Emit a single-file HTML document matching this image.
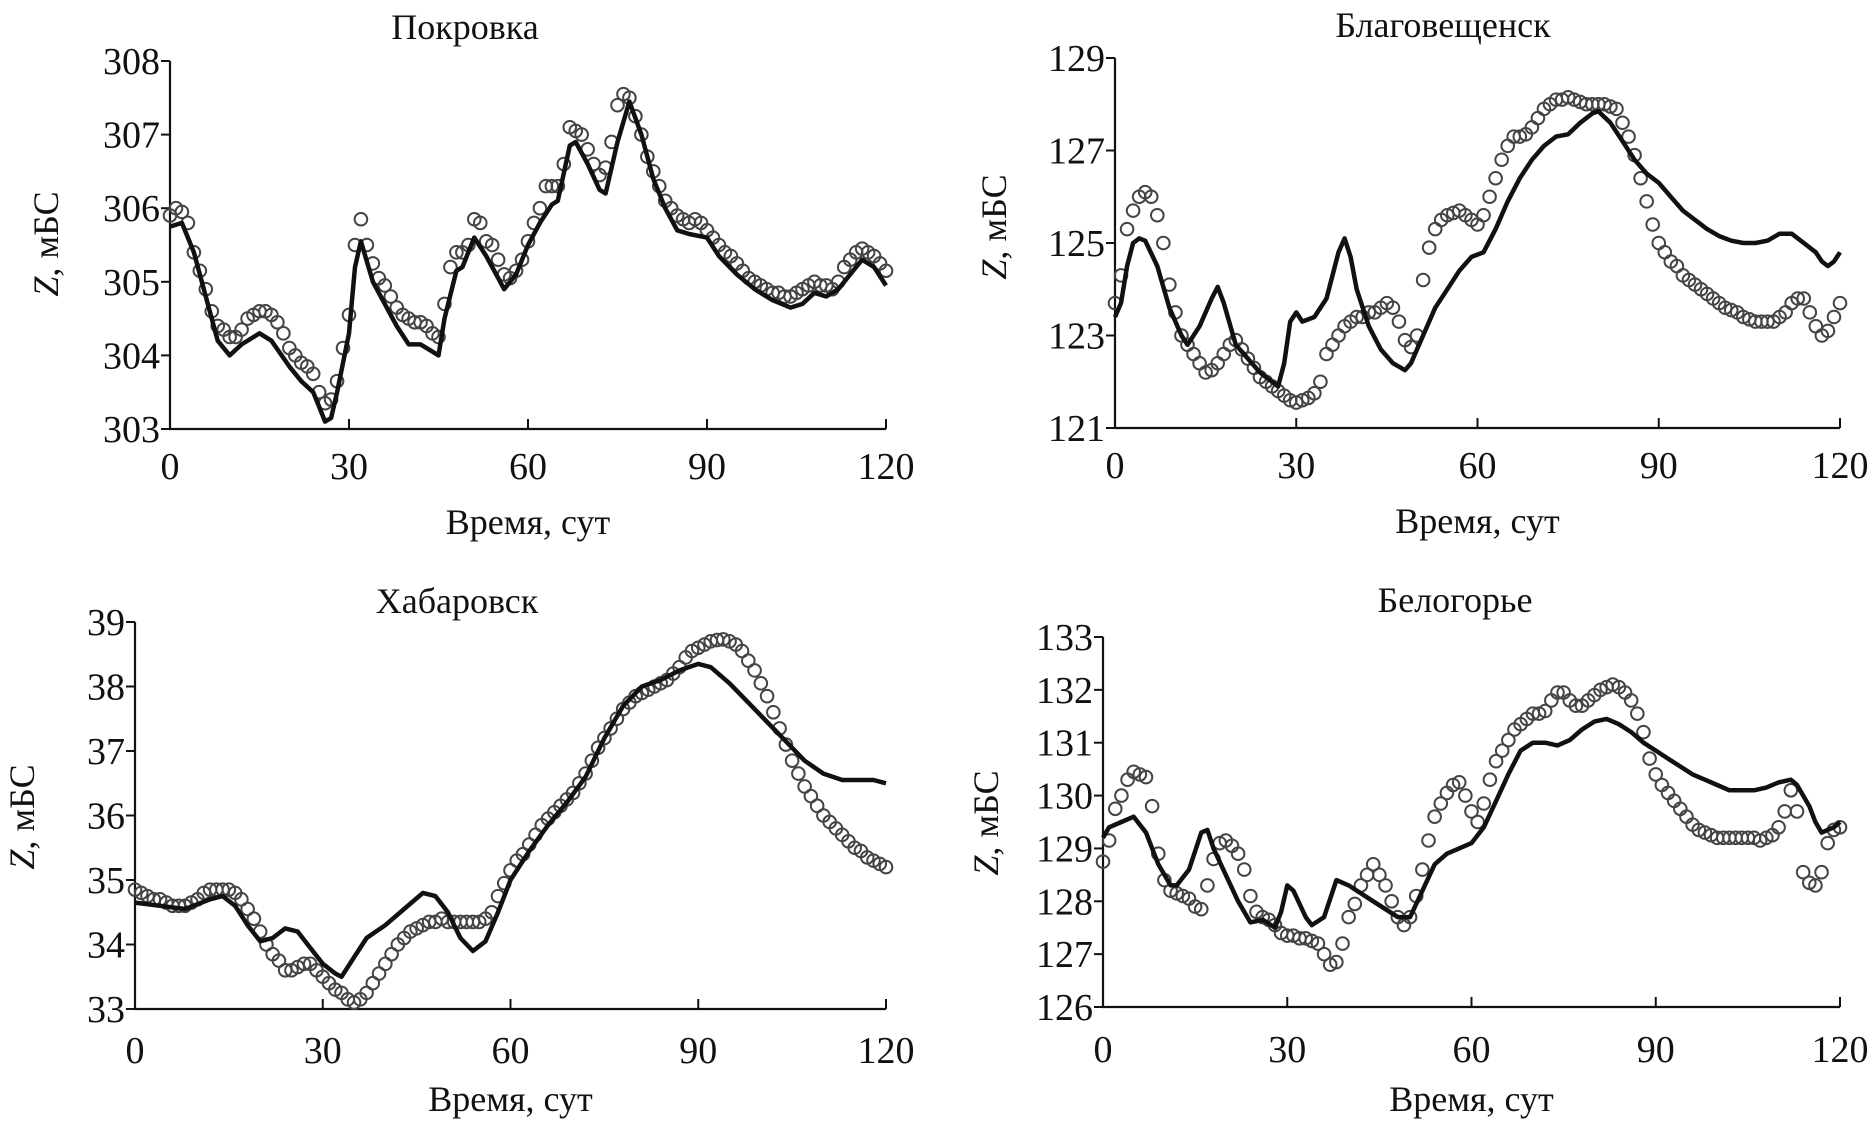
<!DOCTYPE html>
<html><head><meta charset="utf-8">
<style>
html,body{margin:0;padding:0;background:#fff;}
svg{display:block;font-family:"Liberation Serif",serif;}
</style></head>
<body>
<svg id="chart" width="1870" height="1125" viewBox="0 0 1870 1125"></svg>
<script>
const days = Array.from({length:121},(_,i)=>i);
const xTicks = [0,30,60,90,120];

const pokObs = [305.9,306.0,305.95,305.8,305.4,305.15,304.9,304.6,304.4,304.35,304.25,304.25,304.35,304.5,304.55,304.6,304.6,304.55,304.45,304.3,304.1,304.0,303.9,303.85,303.75,303.5,303.35,303.4,303.65,304.1,304.55,305.5,305.85,305.5,305.25,305.05,304.95,304.8,304.65,304.55,304.5,304.45,304.45,304.4,304.3,304.25,304.7,305.2,305.4,305.4,305.5,305.85,305.8,305.55,305.5,305.3,305.1,305.05,305.15,305.3,305.55,305.8,306.0,306.3,306.3,306.3,306.6,307.1,307.05,307.0,306.8,306.6,306.45,306.55,306.9,307.4,307.55,307.5,307.25,307.0,306.7,306.5,306.3,306.1,306.0,305.9,305.85,305.8,305.85,305.8,305.7,305.6,305.5,305.4,305.35,305.25,305.15,305.05,305.0,304.95,304.9,304.85,304.85,304.8,304.8,304.85,304.9,304.95,305.0,304.95,304.95,304.9,305.0,305.2,305.3,305.4,305.45,305.4,305.35,305.25,305.15];
const pokModelDays = [0,2,4,6,8,10,12,15,17,20,22,24,25,26,27,28,30,31,32,34,36,38,40,42,44,45,46,48,49,50,51,53,55,56,58,60,62,64,65,67,68,70,72,73,75,77,79,81,83,85,87,90,92,95,98,101,104,106,108,110,112,114,116,118,120];
const pokModel = [305.75,305.8,305.4,304.8,304.2,304.0,304.15,304.3,304.2,303.85,303.65,303.5,303.3,303.1,303.15,303.5,304.3,305.2,305.55,305.0,304.7,304.4,304.15,304.15,304.05,304.0,304.5,305.15,305.2,305.4,305.6,305.35,305.05,304.9,305.1,305.5,305.8,306.05,306.1,306.85,306.9,306.6,306.25,306.2,306.9,307.45,307.0,306.4,306.0,305.7,305.65,305.6,305.35,305.1,304.9,304.75,304.65,304.7,304.85,304.8,304.9,305.1,305.3,305.2,304.95];
const pokTicks = [303,304,305,306,307,308];

const blgObs = [123.7,124.3,125.3,125.7,126.0,126.1,126.0,125.6,125.0,124.1,123.5,123.0,122.8,122.6,122.4,122.2,122.25,122.4,122.6,122.8,122.9,122.7,122.5,122.3,122.1,122.0,121.9,121.8,121.7,121.6,121.55,121.6,121.65,121.75,122.0,122.6,122.8,123.0,123.2,123.3,123.4,123.4,123.5,123.5,123.6,123.7,123.6,123.3,122.9,122.75,123.0,124.2,124.9,125.3,125.5,125.6,125.65,125.7,125.6,125.5,125.4,125.6,126.0,126.4,126.8,127.1,127.3,127.3,127.35,127.5,127.7,127.9,128.0,128.1,128.1,128.15,128.1,128.05,128.0,128.0,128.0,128.0,127.95,127.9,127.6,127.3,126.9,126.4,125.9,125.4,125.0,124.8,124.6,124.5,124.3,124.2,124.1,124.0,123.9,123.8,123.7,123.6,123.55,123.5,123.4,123.35,123.3,123.3,123.3,123.3,123.4,123.5,123.7,123.8,123.8,123.5,123.2,123.0,123.1,123.4,123.7];
const blgModelDays = [0,1,2,3,4,5,7,9,11,12,14,16,17,18,20,22,24,26,27,28,29,30,31,33,35,37,38,39,40,42,44,46,48,49,51,53,55,57,59,61,63,65,67,69,71,73,75,77,79,80,82,84,86,88,90,92,94,96,98,100,102,104,106,108,110,112,114,116,117,118,119,120];
const blgModel = [123.4,123.7,124.5,125.0,125.1,125.05,124.5,123.6,123.0,122.8,123.2,123.8,124.05,123.7,122.8,122.5,122.2,122.0,121.9,122.4,123.3,123.5,123.3,123.4,123.8,124.8,125.1,124.7,124.0,123.2,122.7,122.4,122.25,122.4,123.0,123.6,124.0,124.4,124.7,124.8,125.3,125.9,126.4,126.8,127.1,127.3,127.35,127.6,127.8,127.85,127.6,127.2,126.8,126.5,126.3,126.0,125.7,125.5,125.3,125.15,125.05,125.0,125.0,125.05,125.2,125.2,125.0,124.8,124.6,124.5,124.6,124.8];
const blgTicks = [121,123,125,127,129];

const khbObs = [34.85,34.8,34.75,34.7,34.7,34.65,34.6,34.6,34.6,34.65,34.7,34.8,34.85,34.85,34.85,34.85,34.8,34.7,34.55,34.4,34.2,34.0,33.85,33.75,33.6,33.6,33.65,33.7,33.7,33.6,33.5,33.4,33.3,33.25,33.15,33.1,33.15,33.25,33.4,33.55,33.7,33.85,34.0,34.1,34.2,34.25,34.3,34.35,34.35,34.4,34.35,34.35,34.35,34.35,34.35,34.35,34.4,34.5,34.75,34.95,35.15,35.3,35.4,35.55,35.7,35.85,35.95,36.05,36.15,36.25,36.35,36.5,36.65,36.85,37.05,37.2,37.35,37.5,37.65,37.75,37.85,37.9,37.95,38.0,38.05,38.1,38.2,38.3,38.45,38.55,38.6,38.65,38.7,38.72,38.73,38.7,38.65,38.55,38.4,38.25,38.05,37.85,37.6,37.35,37.1,36.85,36.65,36.45,36.3,36.15,36.0,35.9,35.8,35.7,35.6,35.5,35.45,35.35,35.3,35.25,35.2];
const khbModelDays = [0,4,8,12,14,16,18,20,22,24,26,28,30,32,33,35,37,40,43,46,48,50,52,54,56,58,60,63,66,69,72,75,78,81,84,87,90,92,95,98,101,104,107,110,113,116,118,120];
const khbModel = [34.65,34.6,34.55,34.7,34.75,34.6,34.3,34.05,34.1,34.25,34.2,33.95,33.7,33.55,33.5,33.8,34.1,34.3,34.55,34.8,34.75,34.5,34.1,33.9,34.05,34.5,35.0,35.45,35.85,36.2,36.6,37.2,37.7,38.0,38.1,38.25,38.35,38.3,38.05,37.75,37.45,37.15,36.85,36.65,36.55,36.55,36.55,36.5];
const khbTicks = [33,34,35,36,37,38,39];

const blgrObs = [128.75,129.15,129.75,130.0,130.3,130.45,130.4,130.35,129.8,128.9,128.4,128.2,128.15,128.1,128.05,127.9,127.85,128.3,128.8,129.1,129.15,129.05,128.9,128.6,128.1,127.8,127.7,127.65,127.55,127.4,127.35,127.35,127.3,127.3,127.25,127.2,127.0,126.8,126.85,127.2,127.7,127.95,128.3,128.5,128.7,128.5,128.3,128.0,127.7,127.55,127.7,128.1,128.6,129.15,129.6,129.85,130.05,130.2,130.25,130.0,129.7,129.5,129.85,130.3,130.65,130.85,131.05,131.25,131.35,131.45,131.55,131.55,131.6,131.8,131.95,131.95,131.8,131.7,131.7,131.8,131.9,132.0,132.05,132.1,132.05,131.95,131.8,131.55,131.2,130.7,130.4,130.2,130.05,129.9,129.75,129.6,129.45,129.35,129.3,129.25,129.2,129.2,129.2,129.2,129.2,129.2,129.2,129.15,129.2,129.25,129.4,129.7,130.1,129.7,128.55,128.35,128.3,128.55,129.1,129.35,129.4];
const blgrModelDays = [0,1,3,5,7,9,11,12,14,16,17,18,20,22,24,26,28,29,30,31,33,34,36,38,40,42,44,46,48,50,52,54,56,58,60,62,64,66,68,70,72,74,76,78,80,82,84,86,88,90,92,94,96,98,100,102,104,106,108,110,112,113,115,116,117,118,119,120];
const blgrModel = [129.2,129.4,129.5,129.6,129.3,128.7,128.3,128.3,128.6,129.3,129.35,129.0,128.5,128.0,127.6,127.65,127.5,127.8,128.3,128.2,127.7,127.55,127.7,128.4,128.3,128.15,128.0,127.85,127.7,127.7,128.2,128.7,128.9,129.0,129.1,129.4,129.9,130.4,130.85,131.0,131.0,130.95,131.05,131.25,131.4,131.45,131.35,131.2,131.0,130.85,130.7,130.55,130.4,130.3,130.2,130.1,130.1,130.1,130.15,130.25,130.3,130.2,129.8,129.5,129.3,129.35,129.4,129.5];
const blgrTicks = [126,127,128,129,130,131,132,133];

const NS='http://www.w3.org/2000/svg';
const svg=document.getElementById('chart');
function mk(tag,attrs,parent){const e=document.createElementNS(NS,tag);for(const k in attrs)e.setAttribute(k,attrs[k]);(parent||svg).appendChild(e);return e;}

function panel(cfg){
  const g=mk('g',{});
  
  
  const xs=d=>cfg.x0+(d/120)*(cfg.x1-cfg.x0);
  const ys=v=>cfg.yB+(v-cfg.vmin)/(cfg.vmax-cfg.vmin)*(cfg.yT-cfg.yB);
  const t=mk('text',{x:cfg.titleX,y:cfg.titleY,'font-size':36,'text-anchor':'middle',fill:'#111'},g);
  t.textContent=cfg.title;
  
  
  const ax=mk('path',{d:`M${cfg.x0},${ys(cfg.vmax)}V${cfg.yB}H${cfg.x1}`,stroke:'#111','stroke-width':2.2,fill:'none'},g);
  
  
  cfg.ticks.forEach(v=>{
    mk('line',{x1:cfg.x0-9,x2:cfg.x0,y1:ys(v),y2:ys(v),stroke:'#111','stroke-width':2},g);
    const l=mk('text',{x:cfg.x0-10,y:ys(v)+13,'font-size':38,'text-anchor':'end',fill:'#111'},g);
    l.textContent=v;
    
    
  });
  xTicks.forEach(d=>{
    if(d>0) mk('line',{x1:xs(d),x2:xs(d),y1:cfg.yB,y2:cfg.yB-10,stroke:'#111','stroke-width':2},g);
    const l=mk('text',{x:xs(d),y:cfg.xTickY,'font-size':38,'text-anchor':'middle',fill:'#111'},g);
    l.textContent=d;
    
    
  });
  const xl=mk('text',{x:(cfg.x0+cfg.x1)/2,y:cfg.xLabelY,'font-size':36,'text-anchor':'middle',fill:'#111'},g);
  xl.textContent='Время, сут';
  
  
  const yl=mk('text',{x:0,y:0,'font-size':36,'text-anchor':'middle',fill:'#111',transform:`translate(${cfg.yLabelX},${cfg.yLabelY}) rotate(-90)`},g);
  yl.innerHTML='<tspan font-style="italic">Z</tspan>, мБС';
  
  
  cfg.obs.forEach((v,i)=>{
    const c=mk('circle',{cx:xs(days[i]),cy:ys(v),r:6.3,fill:'none',stroke:'#444','stroke-width':2},g);
    
    
  });
  const d=cfg.modelDays.map((dd,i)=>(i?'L':'M')+xs(dd).toFixed(1)+','+ys(cfg.model[i]).toFixed(1)).join('');
  const p=mk('path',{d:d,stroke:'#111','stroke-width':4.5,fill:'none','stroke-linejoin':'round'},g);
  
  
}

panel({name:'pokrovka',title:'Покровка',x0:170,x1:886,yT:61,yB:429,vmin:303,vmax:308,ticks:pokTicks,obs:pokObs,modelDays:pokModelDays,model:pokModel,titleX:465,titleY:39,xTickY:479,xLabelY:534,yLabelX:58,yLabelY:244});
panel({name:'blagoveshchensk',title:'Благовещенск',x0:1115,x1:1840,yT:58,yB:428,vmin:121,vmax:129,ticks:blgTicks,obs:blgObs,modelDays:blgModelDays,model:blgModel,titleX:1443,titleY:37,xTickY:478,xLabelY:533,yLabelX:1006,yLabelY:227});
panel({name:'khabarovsk',title:'Хабаровск',x0:135,x1:886,yT:622,yB:1009,vmin:33,vmax:39,ticks:khbTicks,obs:khbObs,modelDays:khbModelDays,model:khbModel,titleX:457,titleY:613,xTickY:1063,xLabelY:1111,yLabelX:34,yLabelY:817});
panel({name:'belogorye',title:'Белогорье',x0:1103,x1:1840,yT:637,yB:1007,vmin:126,vmax:133,ticks:blgrTicks,obs:blgrObs,modelDays:blgrModelDays,model:blgrModel,titleX:1455,titleY:612,xTickY:1062,xLabelY:1111,yLabelX:998,yLabelY:823});
</script>
</body></html>
